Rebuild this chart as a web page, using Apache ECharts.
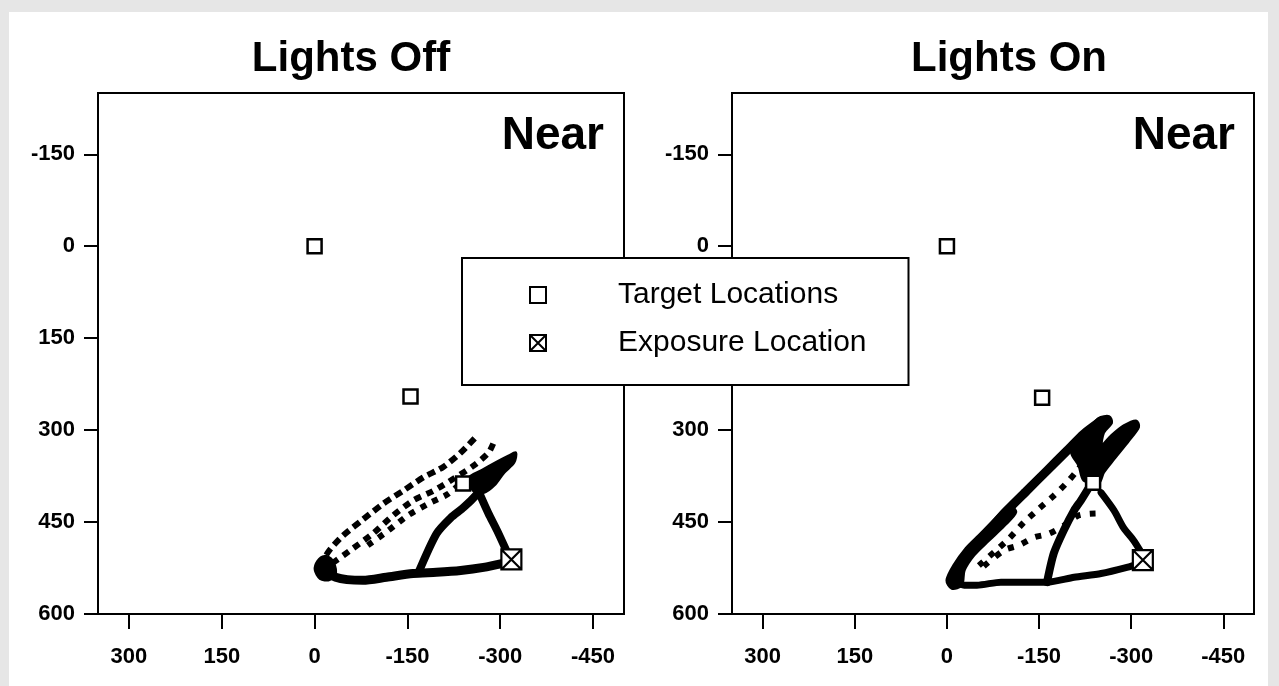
<!DOCTYPE html>
<html>
<head>
<meta charset="utf-8">
<script src="https://cdn.jsdelivr.net/npm/echarts@6/dist/echarts.min.js"></script>
<style>
html,body{margin:0;padding:0;background:#e6e6e6;}
#paper{position:absolute;left:9px;top:12px;width:1259px;height:674px;background:#fff;}
#chart{position:absolute;left:0;top:0;width:1279px;height:686px;}
</style>
</head>
<body>
<div id="paper"></div>
<div id="chart"></div>
<script>
// ---- tick labels ----
const xTicks = [300, 150, 0, -150, -300, -450];
const yTicks = [-150, 0, 150, 300, 450, 600];

// ---- panel titles ----
const panelTitles = ['Lights Off', 'Lights On'];
const panelTag = 'Near';
const legendNames = ['Target Locations', 'Exposure Location'];

// ---- Lights Off: markers ----
const offTargets = [[0, 0], [-155, 245], [-240, 387]];
const offExposure = [[-318, 511]];
// ---- Lights Off: trajectories ----
const offOuterArc = [[-8, 522], [-24, 496], [-46, 472], [-78, 446], [-111, 420], [-143, 399], [-176, 377], [-208, 360], [-236, 337], [-260, 312]];
const offMidArc = [[-29, 517], [-62, 493], [-94, 469], [-127, 439], [-159, 415], [-192, 399], [-225, 379], [-257, 358], [-281, 337], [-290, 319]];
const offInnerArc = [[-86, 488], [-119, 464], [-151, 439], [-184, 420], [-216, 404], [-241, 382]];
const offBottom = [[-8, 522], [-34, 540], [-78, 545], [-116, 540], [-159, 534], [-197, 532], [-236, 529], [-273, 524], [-306, 517]];
const offLeftLeg = [[-168, 532], [-197, 469], [-220, 443], [-241, 426], [-262, 405], [-273, 390]];
const offRightLeg = [[-311, 499], [-295, 464], [-281, 436], [-268, 407], [-260, 387]];
const offTipMass = [[-5, 514], [-16, 506], [-28, 512], [-34, 532], [-24, 544], [-9, 542], [-1, 528]];
const offBlobMass = [[-249, 379], [-270, 366], [-293, 353], [-314, 342], [-325, 337], [-322, 353], [-306, 369], [-290, 390], [-273, 402], [-257, 399]];

// ---- Lights On: markers ----
const onTargets = [[0, 0], [-155, 247], [-238, 386]];
const onExposure = [[-319, 512]];
// ---- Lights On: trajectories ----
const onOuterArc = [[-11, 545], [-28, 512], [-49, 485], [-72, 459], [-98, 431], [-130, 399], [-163, 366], [-195, 334], [-223, 306], [-251, 285]];
const onMidArc = [[-52, 521], [-77, 499], [-101, 477], [-125, 451], [-150, 428], [-174, 407], [-195, 386], [-212, 366], [-226, 347]];
const onInnerArc = [[-60, 522], [-93, 496], [-117, 488], [-142, 475], [-166, 469], [-190, 456], [-215, 439], [-242, 436]];
const onBottom = [[-11, 545], [-28, 553], [-49, 553], [-88, 548], [-130, 548], [-163, 548], [-207, 540], [-251, 534], [-293, 524], [-316, 517]];
const onLeftLeg = [[-163, 548], [-174, 501], [-190, 464], [-207, 431], [-218, 415], [-231, 394]];
const onRightLeg = [[-316, 499], [-304, 480], [-288, 460], [-272, 431], [-251, 402]];
const onBandMass = [[0, 545], [-11, 521], [-31, 493], [-52, 472], [-77, 447], [-101, 423], [-112, 434], [-93, 456], [-68, 480], [-44, 504], [-28, 529], [-24, 553], [-8, 558]];
const onBlobMass = [[-223, 382], [-215, 358], [-203, 337], [-210, 317], [-231, 298], [-247, 281], [-264, 278], [-268, 288], [-255, 304], [-252, 325], [-268, 309], [-288, 293], [-308, 285], [-312, 295], [-296, 317], [-272, 347], [-255, 369], [-247, 386]];

// ---------------------------------------------------------------
const FONT = "'Liberation Sans', Arial, Helvetica, sans-serif";
const chart = echarts.init(document.getElementById('chart'), null, {renderer: 'canvas'});

function xAxisFor(g) {
  return {
    type: 'value', gridIndex: g, min: -500, max: 350, inverse: true, position: 'bottom',
    axisLine: {show: true, onZero: false, lineStyle: {color: '#000', width: 2}},
    axisTick: {show: true, length: 15, inside: false, customValues: xTicks, lineStyle: {color: '#000', width: 2}},
    axisLabel: {customValues: xTicks, color: '#000', fontSize: 22, fontWeight: 'bold', fontFamily: FONT, margin: 32},
    splitLine: {show: false}
  };
}
function yAxisFor(g) {
  return {
    type: 'value', gridIndex: g, min: -250, max: 600, inverse: true, position: 'left',
    axisLine: {show: true, onZero: false, lineStyle: {color: '#000', width: 2}},
    axisTick: {show: true, length: 14, customValues: yTicks, lineStyle: {color: '#000', width: 2}},
    axisLabel: {customValues: yTicks, color: '#000', fontSize: 22, fontWeight: 'bold', fontFamily: FONT, margin: 23},
    splitLine: {show: false}
  };
}
function path(data, g, width, dash, smooth) {
  return {
    type: 'line', xAxisIndex: g, yAxisIndex: g, data: data, symbol: 'none', silent: true,
    smooth: smooth === undefined ? 0.25 : smooth, z: 2,
    lineStyle: {color: '#000', width: width, type: dash || 'solid', cap: dash ? 'butt' : 'round', join: 'round', opacity: 1}
  };
}
function mass(data, g) {
  return {
    type: 'custom', xAxisIndex: g, yAxisIndex: g, data: data, silent: true, z: 3,
    encode: {x: 0, y: 1},
    renderItem: function (params, api) {
      if (params.dataIndex !== 0) return null;
      const pts = data.map(function (p) { return api.coord(p); });
      return {
        type: 'polygon', shape: {points: pts, smooth: 0.3},
        style: {fill: '#000', stroke: '#000', lineWidth: 3, lineJoin: 'round'}
      };
    }
  };
}
const crossSquare = 'path://M0,0H10V10H0Z M0,0L10,10 M10,0L0,10';
function markers(g, targets, exposure) {
  return [
    {name: legendNames[0], type: 'scatter', xAxisIndex: g, yAxisIndex: g, data: targets, symbol: 'rect', symbolSize: 14, z: 5,
     itemStyle: {color: '#fff', borderColor: '#000', borderWidth: 2.5, opacity: 1}},
    {name: legendNames[1], type: 'scatter', xAxisIndex: g, yAxisIndex: g, data: exposure, symbol: crossSquare, symbolSize: 20, z: 5,
     itemStyle: {color: '#fff', borderColor: '#000', borderWidth: 2.2, opacity: 1}}
  ];
}

const series = [
  path(offOuterArc, 0, 6, [8, 5]),
  path(offMidArc, 0, 6, [7, 6]),
  path(offInnerArc, 0, 6, [6, 7]),
  path(offBottom, 0, 9),
  path(offLeftLeg, 0, 8),
  path(offRightLeg, 0, 8),
  mass(offTipMass, 0),
  mass(offBlobMass, 0),
  path(onOuterArc, 1, 9),
  path(onMidArc, 1, 6, [6, 8]),
  path(onInnerArc, 1, 6, [6, 9]),
  path(onBottom, 1, 7),
  path(onLeftLeg, 1, 8),
  path(onRightLeg, 1, 7),
  mass(onBandMass, 1),
  mass(onBlobMass, 1)
].concat(markers(0, offTargets, offExposure), markers(1, onTargets, onExposure));

const titleStyle = {color: '#000', fontSize: 42, fontWeight: 'bold', fontFamily: FONT};
const tagStyle = {color: '#000', fontSize: 46, fontWeight: 'bold', fontFamily: FONT};

chart.setOption({
  animation: false,
  backgroundColor: 'transparent',
  title: [
    {text: panelTitles[0], left: 346, top: 33, textAlign: 'center', textStyle: titleStyle},
    {text: panelTitles[1], left: 1004, top: 33, textAlign: 'center', textStyle: titleStyle},
    {text: panelTag, left: 599, top: 108, textAlign: 'right', textStyle: tagStyle},
    {text: panelTag, left: 1230, top: 108, textAlign: 'right', textStyle: tagStyle}
  ],
  grid: [
    {left: 98, top: 93, width: 526, height: 521, show: true, borderColor: '#000', borderWidth: 2, backgroundColor: '#fff'},
    {left: 732, top: 93, width: 522, height: 521, show: true, borderColor: '#000', borderWidth: 2, backgroundColor: '#fff'}
  ],
  xAxis: [xAxisFor(0), xAxisFor(1)],
  yAxis: [yAxisFor(0), yAxisFor(1)],
  legend: {
    data: legendNames, orient: 'vertical', left: 462, top: 258, z: 20,
    backgroundColor: '#fff', borderColor: '#000', borderWidth: 2, borderRadius: 0,
    padding: [19, 42, 24, 67], itemGap: 12, itemWidth: 16, itemHeight: 16,
    selectedMode: false,
    textStyle: {color: '#000', fontSize: 30, fontFamily: FONT, lineHeight: 36, padding: [0, 0, 0, 67]}
  },
  series: series
});
</script>
</body>
</html>
